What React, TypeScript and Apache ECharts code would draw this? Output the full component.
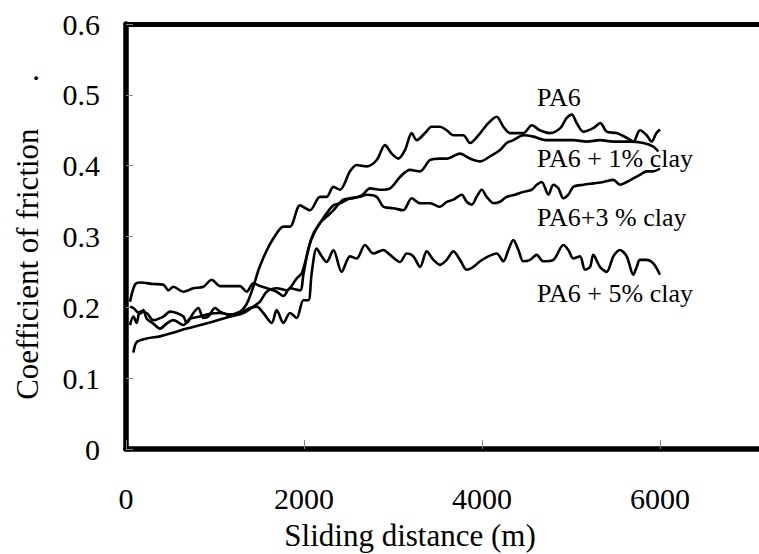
import React, { useEffect, useRef } from "react";
import * as echarts from "echarts";

// Sliding distance (m) / coefficient of friction
const pa6: [number, number][] = [
  [45, 0.201], [83, 0.199], [158, 0.191], [195, 0.196], [233, 0.184], [307, 0.177],
  [382, 0.17], [457, 0.177], [532, 0.182], [645, 0.175], [720, 0.184], [832, 0.187],
  [944, 0.191], [1056, 0.192], [1169, 0.19], [1281, 0.194], [1337, 0.201], [1375, 0.21],
  [1430, 0.229], [1490, 0.253], [1540, 0.269], [1600, 0.285], [1655, 0.297], [1768, 0.314],
  [1843, 0.314], [1955, 0.344], [2067, 0.337], [2180, 0.356], [2255, 0.356], [2330, 0.37],
  [2404, 0.366], [2517, 0.392], [2592, 0.401], [2704, 0.399], [2817, 0.408], [2910, 0.429],
  [2985, 0.417], [3060, 0.41], [3135, 0.422], [3210, 0.446], [3266, 0.436], [3360, 0.446],
  [3434, 0.455], [3528, 0.455], [3603, 0.45], [3680, 0.443], [3790, 0.443], [3865, 0.432],
  [3980, 0.446], [4070, 0.46], [4165, 0.469], [4240, 0.455], [4315, 0.446], [4465, 0.446],
  [4560, 0.457], [4650, 0.45], [4765, 0.446], [4880, 0.453], [4950, 0.467], [5010, 0.472],
  [5065, 0.46], [5140, 0.448], [5250, 0.453], [5330, 0.46], [5400, 0.448], [5510, 0.446],
  [5630, 0.439], [5700, 0.434], [5775, 0.45], [5850, 0.443], [5905, 0.434], [5960, 0.446],
  [6000, 0.451],
];

const pa6Clay1: [number, number][] = [
  [83, 0.136], [120, 0.151], [233, 0.156], [382, 0.159], [495, 0.163], [682, 0.17],
  [832, 0.175], [982, 0.18], [1169, 0.187], [1319, 0.192], [1431, 0.201], [1506, 0.208],
  [1581, 0.222], [1693, 0.227], [1805, 0.224], [1918, 0.241], [1974, 0.248], [2030, 0.272],
  [2086, 0.297], [2180, 0.319], [2255, 0.328], [2330, 0.337], [2442, 0.352], [2554, 0.354],
  [2650, 0.358], [2742, 0.368], [2854, 0.366], [2967, 0.368], [3079, 0.384], [3191, 0.394],
  [3303, 0.392], [3416, 0.408], [3528, 0.41], [3603, 0.41], [3753, 0.417], [3865, 0.41],
  [3978, 0.406], [4090, 0.413], [4203, 0.422], [4277, 0.432], [4352, 0.436], [4465, 0.443],
  [4577, 0.441], [4727, 0.436], [4877, 0.436], [5026, 0.436], [5176, 0.434], [5326, 0.436],
  [5476, 0.434], [5663, 0.434], [5813, 0.432], [5925, 0.427], [5981, 0.42],
];

const pa6Clay3: [number, number][] = [
  [45, 0.208], [101, 0.232], [158, 0.235], [307, 0.233], [420, 0.232], [476, 0.224],
  [532, 0.229], [645, 0.222], [757, 0.227], [869, 0.229], [963, 0.239], [1056, 0.23],
  [1169, 0.23], [1281, 0.23], [1356, 0.222], [1431, 0.234], [1506, 0.23], [1581, 0.227],
  [1693, 0.222], [1768, 0.216], [1843, 0.227], [1955, 0.224], [1993, 0.246], [2049, 0.283],
  [2105, 0.304], [2180, 0.319], [2255, 0.333], [2330, 0.344], [2405, 0.347], [2517, 0.354],
  [2629, 0.356], [2704, 0.359], [2817, 0.356], [2892, 0.342], [3004, 0.34], [3116, 0.337],
  [3210, 0.354], [3303, 0.347], [3416, 0.347], [3528, 0.342], [3603, 0.349], [3678, 0.352],
  [3772, 0.359], [3828, 0.349], [3884, 0.345], [3940, 0.356], [3997, 0.366], [4053, 0.356],
  [4128, 0.347], [4203, 0.349], [4277, 0.356], [4371, 0.359], [4465, 0.363], [4558, 0.366],
  [4615, 0.373], [4671, 0.377], [4746, 0.359], [4802, 0.373], [4858, 0.368], [4914, 0.354],
  [4970, 0.359], [5026, 0.37], [5139, 0.373], [5251, 0.375], [5364, 0.377], [5476, 0.38],
  [5551, 0.373], [5626, 0.377], [5700, 0.382], [5775, 0.387], [5850, 0.392], [5925, 0.392],
  [6000, 0.396],
];

const pa6Clay5: [number, number][] = [
  [45, 0.175], [83, 0.187], [120, 0.178], [158, 0.194], [233, 0.192], [307, 0.182],
  [420, 0.187], [495, 0.194], [570, 0.192], [645, 0.187], [682, 0.178], [757, 0.192],
  [813, 0.199], [869, 0.185], [925, 0.187], [1000, 0.199], [1056, 0.194], [1169, 0.189],
  [1281, 0.192], [1394, 0.199], [1469, 0.201], [1543, 0.192], [1637, 0.178], [1693, 0.196],
  [1768, 0.178], [1843, 0.192], [1918, 0.185], [1993, 0.21], [2049, 0.21], [2086, 0.248],
  [2142, 0.283], [2199, 0.272], [2255, 0.264], [2330, 0.281], [2423, 0.25], [2517, 0.272],
  [2592, 0.269], [2685, 0.288], [2779, 0.276], [2892, 0.281], [2967, 0.274], [3079, 0.264],
  [3154, 0.276], [3229, 0.272], [3304, 0.257], [3379, 0.279], [3454, 0.267], [3528, 0.26],
  [3603, 0.267], [3678, 0.279], [3753, 0.267], [3828, 0.253], [3903, 0.257], [3978, 0.265],
  [4071, 0.272], [4165, 0.276], [4240, 0.265], [4296, 0.281], [4352, 0.295], [4409, 0.281],
  [4465, 0.265], [4540, 0.267], [4614, 0.274], [4689, 0.265], [4802, 0.267], [4914, 0.288],
  [4970, 0.281], [5026, 0.269], [5101, 0.272], [5157, 0.253], [5214, 0.257], [5251, 0.274],
  [5326, 0.257], [5401, 0.25], [5476, 0.272], [5551, 0.281], [5626, 0.272], [5700, 0.246],
  [5738, 0.257], [5775, 0.267], [5850, 0.267], [5925, 0.262], [6000, 0.246],
];

const seriesNames = ["PA6", "PA6 + 1% clay", "PA6+3 % clay", "PA6 + 5% clay"];
const yTicks = [0, 0.1, 0.2, 0.3, 0.4, 0.5, 0.6];
const xTicks = [0, 2000, 4000, 6000, 8000];

const FONT = "Liberation Serif, serif";

export default function App() {
  const ref = useRef<HTMLDivElement>(null);
  useEffect(() => {
    if (!ref.current) return;
    const chart = echarts.init(ref.current, undefined, { renderer: "svg" });
    const data = [pa6, pa6Clay1, pa6Clay3, pa6Clay5];
    const labelPos = [97, 158, 217, 293];
    chart.setOption({
      animation: false,
      backgroundColor: "#ffffff",
      grid: {
        left: 126,
        top: 24,
        width: 712,
        height: 425,
        outerBoundsMode: "none",
        show: false,
      },
      xAxis: [
        {
          type: "value",
          min: xTicks[0],
          max: xTicks[xTicks.length - 1],
          interval: 2000,
          position: "bottom",
          axisLine: { show: true, onZero: false, lineStyle: { color: "#000", width: 5.5 } },
          axisTick: { show: true, inside: true, length: 9, lineStyle: { color: "#888", width: 1 } },
          splitLine: { show: false },
          axisLabel: {
            margin: 34,
            showMaxLabel: false,
            color: "#000",
            fontFamily: FONT,
            fontSize: 30,
            formatter: (v: number) => String(v),
          },
        },
        {
          type: "value",
          min: xTicks[0],
          max: xTicks[xTicks.length - 1],
          interval: 2000,
          position: "top",
          axisLine: { show: true, onZero: false, lineStyle: { color: "#000", width: 5 } },
          axisTick: { show: false },
          axisLabel: { show: false },
          splitLine: { show: false },
        },
      ],
      yAxis: {
        type: "value",
        min: yTicks[0],
        max: yTicks[yTicks.length - 1],
        interval: 0.1,
        axisLine: { show: true, onZero: false, lineStyle: { color: "#000", width: 5.5 } },
        axisTick: { show: true, inside: true, length: 7, lineStyle: { color: "#888", width: 1 } },
        splitLine: { show: false },
        axisLabel: {
          margin: 26,
          color: "#000",
          fontFamily: FONT,
          fontSize: 30,
          formatter: (v: number) => (v === 0 ? "0" : v.toFixed(1)),
        },
      },
      series: data.map((d, i) => ({
        name: seriesNames[i],
        type: "line",
        xAxisIndex: 0,
        data: d,
        showSymbol: false,
        smooth: 0.3,
        lineStyle: { color: "#000", width: 2.6 },
      })),
      graphic: [
        ...seriesNames.map((n, i) => ({
          type: "text",
          x: 537,
          y: labelPos[i],
          style: {
            text: n,
            fontFamily: FONT,
            fontSize: 26,
            fill: "#000",
            verticalAlign: "middle",
            textVerticalAlign: "middle",
          },
        })),
        {
          type: "text",
          x: 410,
          y: 535,
          style: {
            text: "Sliding distance (m)",
            fontFamily: FONT,
            fontSize: 31,
            fill: "#000",
            align: "center",
            verticalAlign: "middle",
            textAlign: "center",
            textVerticalAlign: "middle",
          },
        },
        {
          type: "text",
          x: 27,
          y: 237,
          rotation: Math.PI / 2,
          style: {
            text: "Coefficient of friction\u00a0\u00a0\u00a0\u00a0\u00a0\u00a0.",
            fontFamily: FONT,
            fontSize: 31,
            fill: "#000",
            align: "center",
            verticalAlign: "middle",
            textAlign: "center",
            textVerticalAlign: "middle",
          },
        },
      ],
    });
    return () => chart.dispose();
  }, []);
  return (
    <div
      ref={ref}
      style={{ position: "fixed", left: 0, top: 0, width: 759, height: 554, background: "#fff" }}
    />
  );
}
